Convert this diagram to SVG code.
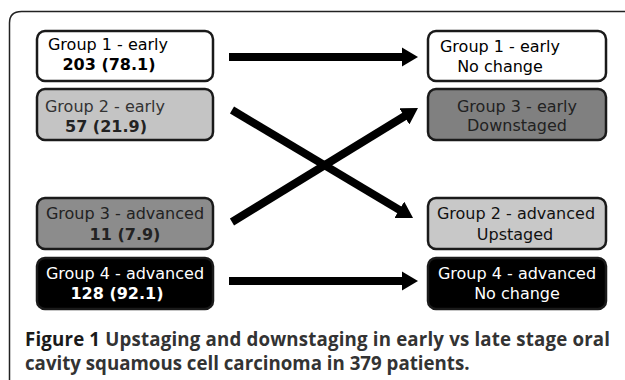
<svg xmlns="http://www.w3.org/2000/svg" width="625" height="380" viewBox="0 0 625 380">
<style>
.box{stroke:#1a1a1a;stroke-width:2.5}
.t{font-family:"DejaVu Sans",Verdana,sans-serif;font-size:16px;text-anchor:middle}
.b{font-weight:bold}
.cap{font-family:"Open Sans","DejaVu Sans",sans-serif;font-size:18.7px;font-weight:bold;fill:#333}
.arr{stroke:#000;stroke-width:8;fill:none}
</style>
<defs>
<marker id="ah" viewBox="0 0 10 12" refX="4" refY="6" markerWidth="2" markerHeight="2.4" markerUnits="strokeWidth" orient="auto">
<path d="M0,0 L10,6 L0,12 Z" fill="#000"/>
</marker>
</defs>
<rect width="625" height="380" fill="#fff"/>
<path d="M9.5,380 V23 Q9.5,11.5 21.5,11.5 H625" fill="none" stroke="#222" stroke-width="1.5"/>
<g id="connectors">
<line class="arr" x1="229" y1="57" x2="408.4" y2="57" marker-end="url(#ah)"/>
<line class="arr" x1="232" y1="110" x2="404.8" y2="213.1" marker-end="url(#ah)"/>
<line class="arr" x1="232" y1="222" x2="409.8" y2="113" marker-end="url(#ah)"/>
<line class="arr" x1="229" y1="281" x2="408.4" y2="281" marker-end="url(#ah)"/>
</g>
<g id="n1"><rect class="box" x="37" y="31" width="176" height="50" rx="8" fill="#fff"/>
<text class="t" x="108" y="50">Group 1 - early</text><text class="t b" x="109" y="70">203 (78.1)</text></g>
<g id="n2"><rect class="box" x="37" y="89" width="176" height="51" rx="8" fill="#c4c4c4"/>
<text class="t" x="105" y="112" fill="#333">Group 2 - early</text><text class="t b" x="106" y="132" fill="#222">57 (21.9)</text></g>
<g id="n3"><rect class="box" x="37" y="198" width="176" height="51" rx="8" fill="#8c8c8c"/>
<text class="t" x="125" y="219" fill="#222">Group 3 - advanced</text><text class="t b" x="125" y="240" fill="#222">11 (7.9)</text></g>
<g id="n4"><rect class="box" x="37" y="258" width="176" height="51" rx="8" fill="#000"/>
<text class="t" x="125" y="279" fill="#fff">Group 4 - advanced</text><text class="t b" x="117" y="299" fill="#fff">128 (92.1)</text></g>
<g id="n5"><rect class="box" x="428" y="31" width="178" height="50" rx="8" fill="#fff"/>
<text class="t" x="500" y="52">Group 1 - early</text><text class="t" x="500" y="72">No change</text></g>
<g id="n6"><rect class="box" x="428" y="89" width="178" height="51" rx="8" fill="#808080"/>
<text class="t" x="517" y="112" fill="#222">Group 3 - early</text><text class="t" x="517" y="131" fill="#222">Downstaged</text></g>
<g id="n7"><rect class="box" x="428" y="198" width="178" height="51" rx="8" fill="#c8c8c8"/>
<text class="t" x="516" y="219" fill="#111">Group 2 - advanced</text><text class="t" x="515" y="240" fill="#111">Upstaged</text></g>
<g id="n8"><rect class="box" x="428" y="258" width="178" height="51" rx="8" fill="#000"/>
<text class="t" x="517" y="279" fill="#fff">Group 4 - advanced</text><text class="t" x="517" y="299" fill="#fff">No change</text></g>
<text class="cap" x="25" y="346" textLength="585" lengthAdjust="spacing"><tspan fill="#1a1a1a">Figure 1</tspan> Upstaging and downstaging in early vs late stage oral</text>
<text class="cap" x="25" y="370">cavity squamous cell carcinoma in 379 patients.</text>
</svg>
